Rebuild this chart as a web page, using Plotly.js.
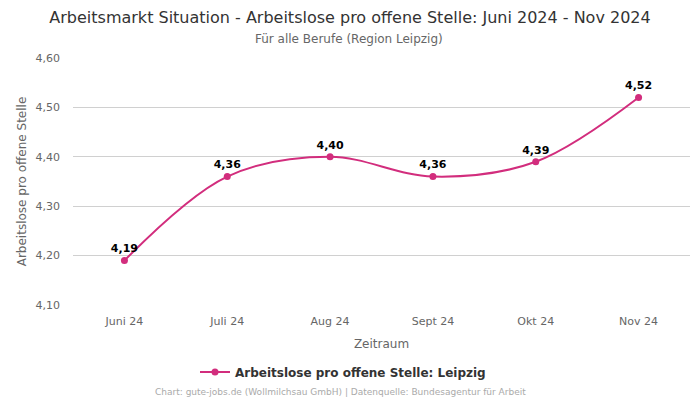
<!DOCTYPE html>
<html>
<head>
<meta charset="utf-8">
<script src="https://cdn.plot.ly/plotly-3.0.1.min.js"></script>
<style>html,body{margin:0;padding:0;background:#fff;}#chart{width:700px;height:400px;}</style>
</head>
<body>
<div id="chart"></div>
<script>
const categories = ["Juni 24", "Juli 24", "Aug 24", "Sept 24", "Okt 24", "Nov 24"];
const values = [4.19, 4.36, 4.40, 4.36, 4.39, 4.52];
const labels = ["4,19", "4,36", "4,40", "4,36", "4,39", "4,52"];
const yTicks = [4.1, 4.2, 4.3, 4.4, 4.5, 4.6];
const yTickText = ["4,10", "4,20", "4,30", "4,40", "4,50", "4,60"];
const seriesName = "Arbeitslose pro offene Stelle: Leipzig";

const color = "#d22d7d";
const font = "DejaVu Sans, sans-serif";

const trace = {
  x: categories,
  y: values,
  type: "scatter",
  mode: "lines+markers+text",
  name: seriesName,
  line: {color: color, width: 2, shape: "spline", smoothing: 1},
  marker: {color: color, size: 7},
  text: labels,
  textposition: "top center",
  textfont: {family: font, size: 11, color: "#000", weight: "bold"},
  cliponaxis: false,
  hoverinfo: "skip"
};

const layout = {
  width: 700, height: 400,
  margin: {l: 73, r: 10, t: 58, b: 95, autoexpand: false},
  paper_bgcolor: "#fff", plot_bgcolor: "#fff",
  font: {family: font, color: "#666"},
  title: {
    text: "Arbeitsmarkt Situation - Arbeitslose pro offene Stelle: Juni 2024 - Nov 2024",
    font: {family: font, size: 16, color: "#333"},
    xref: "container", x: 0.5, xanchor: "center",
    yref: "container", y: 1 - 17/400, yanchor: "middle"
  },
  xaxis: {
    type: "category",
    range: [-0.5, 5.5],
    showgrid: false, zeroline: false,
    showline: false, automargin: false,
    ticks: "", ticklabelstandoff: 8,
    tickfont: {family: font, size: 11, color: "#666"},
    title: {text: "Zeitraum", font: {family: font, size: 12, color: "#666"}, standoff: 12}
  },
  yaxis: {
    range: [4.1, 4.6],
    tickvals: yTicks, ticktext: yTickText,
    showgrid: true, gridcolor: "#d0d0d0", gridwidth: 1,
    zeroline: false, showline: false, ticks: "", automargin: false,
    ticklabelstandoff: 12,
    tickfont: {family: font, size: 11, color: "#666"},
    title: {text: "Arbeitslose pro offene Stelle", font: {family: font, size: 12, color: "#666"}, standoff: 6}
  },
  showlegend: true,
  legend: {
    orientation: "h", xref: "container", x: 343 / 700, xanchor: "center",
    yref: "container", y: 1 - 372/400, yanchor: "middle",
    font: {family: font, size: 12, color: "#333", weight: "bold"}
  },
  annotations: [{
    text: "Für alle Berufe (Region Leipzig)",
    xref: "paper", yref: "paper", x: (349 - 73) / 617, xanchor: "center",
    y: 1, yanchor: "middle", yshift: 58 - 39, showarrow: false,
    font: {family: font, size: 12, color: "#666"}
  }, {
    text: "Chart: gute-jobs.de (Wollmilchsau GmbH) | Datenquelle: Bundesagentur für Arbeit",
    xref: "paper", yref: "paper", x: (340 - 73) / 617, xanchor: "center",
    y: 0, yanchor: "middle", yshift: 305 - 392, showarrow: false,
    font: {family: font, size: 9, color: "#aaa"}
  }]
};

Plotly.newPlot("chart", [trace], layout, {displayModeBar: false, staticPlot: true});
</script>
</body>
</html>
